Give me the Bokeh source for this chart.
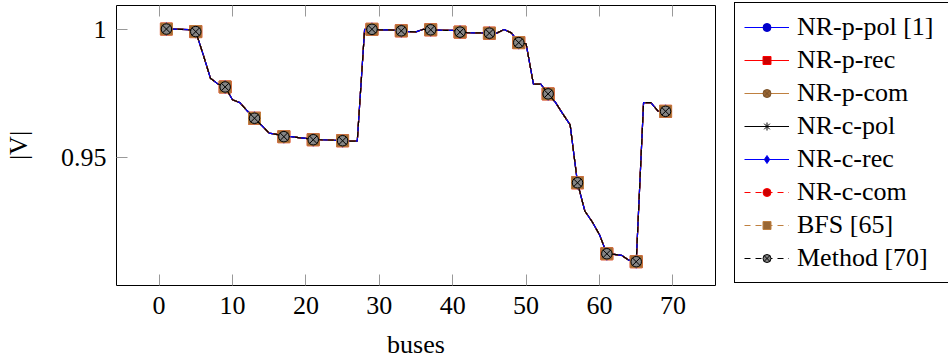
from bokeh.plotting import figure
from bokeh.models import (Range1d, FixedTicker, LinearAxis, Legend, LegendItem,
                          CustomJSTickFormatter)
from bokeh.embed import file_html
from bokeh.resources import INLINE

# ---------------- data ----------------
buses = list(range(1, 70))
voltage_profile = [
    1.0000, 1.0000, 0.9999, 0.9998, 0.9990, 0.9901, 0.9808, 0.9786, 0.9774, 0.9724,
    0.9713, 0.9681, 0.9652, 0.9623, 0.9594, 0.9589, 0.9580, 0.9580, 0.9576, 0.9573,
    0.9568, 0.9568, 0.9567, 0.9566, 0.9564, 0.9563, 0.9563, 0.9999, 0.9999, 0.9997,
    0.9997, 0.9996, 0.9993, 0.9990, 0.9989, 0.9999, 0.9997, 0.9996, 0.9995, 0.9995,
    0.9988, 0.9986, 0.9985, 0.9985, 0.9984, 0.9984, 0.9998, 0.9985, 0.9947, 0.9942,
    0.9785, 0.9785, 0.9747, 0.9714, 0.9669, 0.9626, 0.9400, 0.9290, 0.9248, 0.9197,
    0.9123, 0.9121, 0.9117, 0.9098, 0.9092, 0.9713, 0.9713, 0.9679, 0.9679,
]
series_labels = ["NR-p-pol [1]", "NR-p-rec", "NR-p-com", "NR-c-pol",
                 "NR-c-rec", "NR-c-com", "BFS [65]", "Method [70]"]
# all methods give the same voltage profile
series_values = [voltage_profile] * len(series_labels)
x_ticks = [0, 10, 20, 30, 40, 50, 60, 70]
y_ticks = [0.95, 1.0]
mark_every = 4

# ---------------- styles ----------------
styles = [
    dict(color="#0000ff", dash="solid", marker="circle", size=10.5, fill="#0000cc", mline="#0000cc"),
    dict(color="#ff0000", dash="solid", marker="square", size=12, fill="#cc0000", mline="#ff0000"),
    dict(color="#bf8040", dash="solid", marker="circle_x", size=10.5, fill="#996633", mline="#7a5229"),
    dict(color="#000000", dash="solid", marker="asterisk", size=9, fill="#000000", mline="#000000"),
    dict(color="#0000ff", dash="solid", marker="diamond", size=13, fill="#0000cc", mline="#0000ff"),
    dict(color="#ff0000", dash="6 5", marker="circle", size=10.5, fill="#cc0000", mline="#ff0000"),
    dict(color="#bf8040", dash="6 5", marker="square", size=12, fill="#996633", mline="#bf8040"),
    dict(color="#000000", dash="6 5", marker="circle_x", size=10.5, fill="#858585", mline="#000000"),
]

FONT = "Liberation Serif"
FS = "26px"

p = figure(width=948, height=360, frame_width=599, frame_height=280,
           output_backend="svg", toolbar_location=None,
           x_range=Range1d(-5.8, 75.8), y_range=Range1d(0.89992, 1.00919),
           min_border_left=115, min_border_right=234, min_border_top=5,
           min_border_bottom=75)
p.xgrid.visible = False
p.ygrid.visible = False
p.outline_line_color = "black"
p.outline_line_width = 1
p.outline_line_alpha = 1
p.background_fill_color = "white"
p.border_fill_color = "white"

items = []
for label, vals, st in zip(series_labels, series_values, styles):
    lr = p.line(buses, vals, line_color=st["color"], line_width=1.2, line_dash=st["dash"])
    sr = p.scatter(buses[::mark_every], vals[::mark_every], marker=st["marker"], size=st["size"],
                   fill_color=st["fill"], line_color=st["mline"], line_width=1)
    items.append(LegendItem(label=label, renderers=[lr, sr]))

# bottom axis
xa = p.xaxis[0]
xa.ticker = FixedTicker(ticks=x_ticks)
xa.major_tick_in = 11
xa.major_tick_out = 0
xa.minor_tick_line_color = None
xa.axis_line_color = None
xa.major_tick_line_color = "#999999"
xa.major_label_text_font = FONT
xa.major_label_text_font_size = FS
xa.major_label_text_color = "black"
xa.major_label_standoff = 11
xa.axis_label = "buses"
xa.axis_label_text_font = FONT
xa.axis_label_text_font_size = FS
xa.axis_label_text_font_style = "normal"
xa.axis_label_text_color = "black"
xa.axis_label_standoff = 13

# left axis
ya = p.yaxis[0]
ya.ticker = FixedTicker(ticks=y_ticks)
ya.formatter = CustomJSTickFormatter(code="return String(Math.round(tick*100)/100);")
ya.major_tick_in = 11
ya.major_tick_out = 0
ya.minor_tick_line_color = None
ya.axis_line_color = None
ya.major_tick_line_color = "#999999"
ya.major_label_text_font = FONT
ya.major_label_text_font_size = FS
ya.major_label_text_color = "black"
ya.major_label_standoff = 10
ya.axis_label = "|V|"
ya.axis_label_text_font = FONT
ya.axis_label_text_font_size = FS
ya.axis_label_text_font_style = "normal"
ya.axis_label_text_color = "black"
ya.axis_label_standoff = 25

# mirrored ticks on top (no labels)
top = LinearAxis(ticker=FixedTicker(ticks=x_ticks), formatter=CustomJSTickFormatter(code="return '';"),
                 major_tick_in=11, major_tick_out=0,
                 minor_tick_line_color=None, axis_line_color=None,
                 major_tick_line_color="#999999", major_label_standoff=0)
p.add_layout(top, "above")

legend = Legend(items=items, location=(19, 2), orientation="vertical",
                glyph_width=45, glyph_height=20, label_height=20, label_width=143,
                label_standoff=8, padding=9, spacing=3, margin=0,
                label_text_font=FONT, label_text_font_size=FS, label_text_color="black",
                border_line_color="black", border_line_width=1, border_line_alpha=1,
                background_fill_color="white", background_fill_alpha=1)
p.add_layout(legend, "right")

open("out.html", "w").write(file_html(p, INLINE))
